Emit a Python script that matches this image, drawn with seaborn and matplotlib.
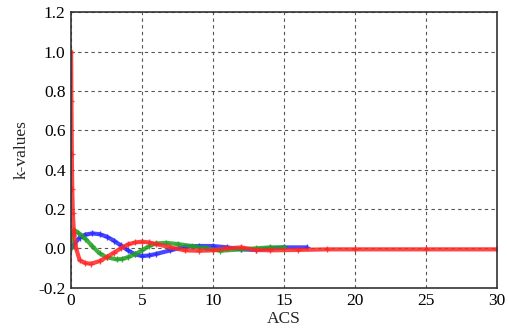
import matplotlib
matplotlib.use("Agg")
import matplotlib.pyplot as plt
import seaborn as sns
import pandas as pd

red_x = [0.0, 0.02, 0.05, 0.08, 0.12, 0.2, 0.35, 0.6, 1.0, 1.4, 2.0, 2.5, 3.0, 3.5, 4.0, 4.5, 5.0, 5.5, 6.0, 7.0, 8.0, 9.0, 10.0, 11.0, 12.0, 13.0, 14.0, 16.0, 18.0, 20.0, 25.0, 30.0]
red_y = [1.0, 0.75, 0.48, 0.3, 0.18, 0.08, 0.0, -0.06, -0.075, -0.078, -0.065, -0.045, -0.022, 0.0, 0.02, 0.03, 0.034, 0.03, 0.022, 0.005, -0.01, -0.012, -0.01, 0.0, 0.005, -0.008, -0.01, -0.008, -0.005, -0.005, -0.005, -0.005]

blue_x = [0.0, 0.2, 0.6, 1.0, 1.5, 2.0, 2.5, 3.0, 3.5, 4.0, 4.5, 5.0, 5.5, 6.0, 7.0, 8.0, 9.0, 10.0, 11.0, 12.0, 13.0, 14.0, 15.0, 16.6]
blue_y = [0.0, 0.02, 0.055, 0.07, 0.076, 0.072, 0.06, 0.04, 0.015, -0.01, -0.03, -0.039, -0.036, -0.028, -0.01, 0.008, 0.012, 0.012, 0.005, -0.005, -0.008, 0.0, 0.005, 0.005]

green_x = [0.0, 0.1, 0.2, 0.5, 1.0, 1.5, 2.0, 2.5, 3.2, 3.6, 4.0, 4.5, 5.0, 5.5, 6.0, 6.7, 7.5, 8.5, 9.5, 10.5, 12.0, 13.0, 14.0, 15.0]
green_y = [0.0, 0.07, 0.093, 0.08, 0.05, 0.01, -0.025, -0.045, -0.056, -0.054, -0.045, -0.03, -0.01, 0.012, 0.025, 0.028, 0.022, 0.012, 0.0, -0.012, -0.005, 0.0, 0.005, 0.005]

x_ticks = [0, 5, 10, 15, 20, 25, 30]
y_ticks = [-0.2, 0.0, 0.2, 0.4, 0.6, 0.8, 1.0, 1.2]

sns.set_style("white")
plt.rcParams['font.family'] = ['Liberation Serif', 'DejaVu Serif']

fig = plt.figure(figsize=(5.08, 3.33), dpi=100)
ax = fig.add_axes([0.140, 0.136, 0.838, 0.827])

ax.grid(True, linestyle=(0, (3, 3)), color="#555555", linewidth=0.8)
ax.set_axisbelow(True)

series = [(blue_x, blue_y, "#2828ff"), (green_x, green_y, "#22a022"), (red_x, red_y, "#ff2626")]
for xs, ys, col in series:
    d = pd.DataFrame({"x": xs, "y": ys})
    sns.lineplot(data=d, x="x", y="y", color=col, ax=ax, linewidth=3, alpha=0.85,
                 marker="+", markersize=5, markeredgewidth=1, markeredgecolor=col,
                 sort=False, estimator=None, zorder=3)

ax.set_xlim(0, 30)
ax.set_ylim(-0.2, 1.2)
ax.set_xticks(x_ticks)
ax.set_yticks(y_ticks)
ax.set_xticklabels([str(t) for t in x_ticks])
ax.set_yticklabels([f"{t:.1f}" for t in y_ticks])
for sp in ax.spines.values():
    sp.set_color("#333333")
    sp.set_linewidth(1.2)
    sp.set_zorder(4)
ax.tick_params(axis="both", labelsize=12.5, length=0, pad=4, colors="black")
ax.set_xlabel("ACS", fontsize=12.5, labelpad=1)
ax.set_ylabel("k-values", fontsize=12.5, labelpad=6)

fig.savefig("out.png", dpi=100)
